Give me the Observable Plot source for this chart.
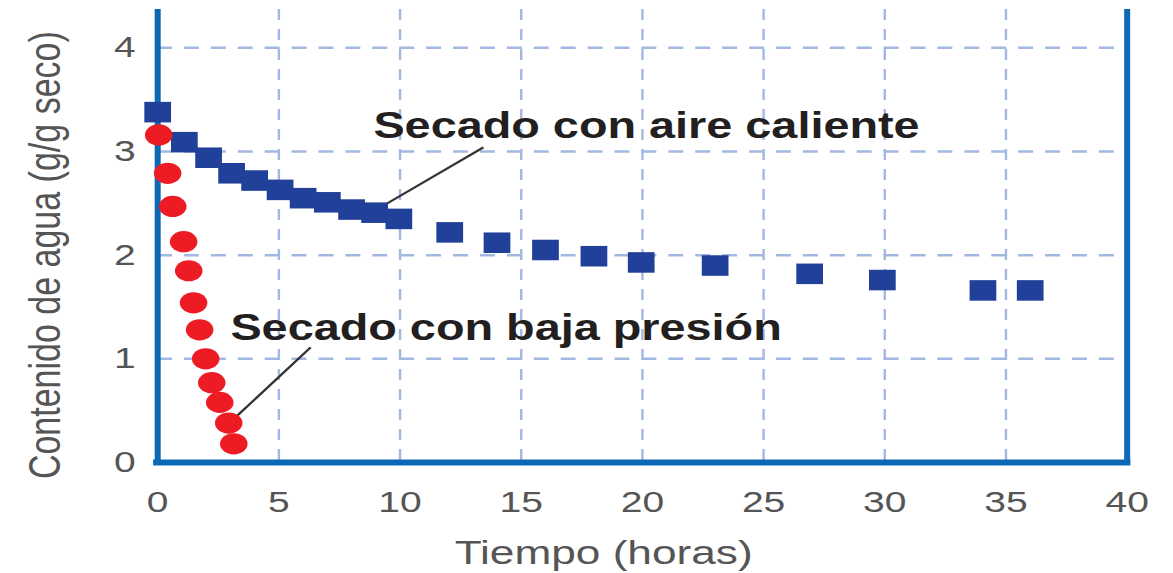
<!DOCTYPE html>
<html>
<head>
<meta charset="utf-8">
<script src="https://cdn.jsdelivr.net/npm/d3@7"></script>
<script src="https://cdn.jsdelivr.net/npm/@observablehq/plot@0.6"></script>
<style>
  html, body { margin: 0; padding: 0; background: #fff; }
</style>
</head>
<body>
<div id="chart"></div>
<script>
// ---- data ----
const aireTiempo = [0, 1.1, 2.1, 3.05, 4.0, 5.05, 6.0, 7.0, 8.0, 8.95, 9.95, 12.05, 14.0, 16.0, 18.0, 19.95, 23.0, 26.9, 29.9, 34.05, 36.0];
const aireAgua   = [3.38, 3.09, 2.94, 2.79, 2.72, 2.63, 2.55, 2.51, 2.44, 2.41, 2.35, 2.22, 2.12, 2.05, 1.99, 1.93, 1.90, 1.82, 1.76, 1.66, 1.66];
const bajaTiempo = [0.04, 0.41, 0.62, 1.07, 1.28, 1.48, 1.73, 1.98, 2.23, 2.56, 2.93, 3.14];
const bajaAgua   = [3.16, 2.79, 2.47, 2.13, 1.85, 1.54, 1.28, 1.00, 0.77, 0.58, 0.38, 0.18];

const xTicks = [0, 5, 10, 15, 20, 25, 30, 35, 40];
const yTicks = [0, 1, 2, 3, 4];
const xGrid = [5, 10, 15, 20, 25, 30, 35];
const yGrid = [1, 2, 3, 4];

const xLabel = "Tiempo (horas)";
const yLabel = "Contenido de agua (g/g seco)";
const etiquetas = [
  {text: "Secado con aire caliente", x: 8.9, y: 3.24},
  {text: "Secado con baja presión", x: 3.0, y: 1.29}
];
const flechas = [
  {x1: 13.44, y1: 3.04, x2: 9.11, y2: 2.45},
  {x1: 6.31, y1: 1.11, x2: 3.09, y2: 0.41}
];

// ---- build ----
const aire = aireTiempo.map((t, i) => ({t, w: aireAgua[i]}));
const baja = bajaTiempo.map((t, i) => ({t, w: bajaAgua[i]}));

const k = 1.3;               // horizontal stretch of the reference picture
const W = 1173 / k;
const H = 573;
const frameBlue = "#0a68b4";
const gridBlue = "#a2b8e2";

const svg = Plot.plot({
  width: W,
  height: H,
  marginLeft: 120.8,
  marginRight: W - 1126.5 / k,
  marginTop: 9,
  marginBottom: 111,
  style: {fontFamily: "'Liberation Sans', Arial, sans-serif", background: "#fff"},
  x: {domain: [0, 40]},
  y: {domain: [0, 4.37]},
  marks: [
    Plot.ruleX(xGrid, {stroke: gridBlue, strokeWidth: 2.4 / k, strokeDasharray: "11,9"}),
    Plot.ruleY(yGrid, {stroke: gridBlue, strokeWidth: 2.5, strokeDasharray: "11.5,9.2"}),
    Plot.ruleX([0, 40], {stroke: frameBlue, strokeWidth: 6 / k}),
    Plot.ruleY([0], {stroke: frameBlue, strokeWidth: 6, strokeLinecap: "square"}),
    Plot.axisX({ticks: xTicks, tickSize: 0, tickPadding: 28, fontSize: 30, color: "#555", label: null, tickFormat: d => String(d)}),
    Plot.axisY({ticks: yTicks, tickSize: 0, tickPadding: 17, fontSize: 30, color: "#555", label: null, tickFormat: d => String(d)}),
    Plot.link(flechas, {x1: "x1", y1: "y1", x2: "x2", y2: "y2", stroke: "#333", strokeWidth: 2}),
    Plot.dot(aire, {x: "t", y: "w", symbol: "square", r: 11.6, fill: "#21409a", stroke: null}),
    Plot.dot(baja, {x: "t", y: "w", r: 10.6, fill: "#ed1c24", stroke: null}),
    Plot.text(etiquetas, {x: "x", y: "y", text: "text", textAnchor: "start", lineAnchor: "middle", fontSize: 36, fontWeight: "bold", fill: "#231f20"}),
    Plot.text([xLabel], {x: () => 18.4, text: d => d, frameAnchor: "bottom", dy: 91, textAnchor: "middle", lineAnchor: "middle", fontSize: 34, fill: "#555"}),
    Plot.text([yLabel], {y: () => 2.0, text: d => d, frameAnchor: "left", dx: -86, rotate: -90, textAnchor: "middle", lineAnchor: "middle", fontSize: 34, fill: "#555"})
  ]
});

svg.setAttribute("preserveAspectRatio", "none");
svg.style.width = "1173px";
svg.style.height = H + "px";
svg.style.maxWidth = "none";
document.getElementById("chart").appendChild(svg);
</script>
</body>
</html>
